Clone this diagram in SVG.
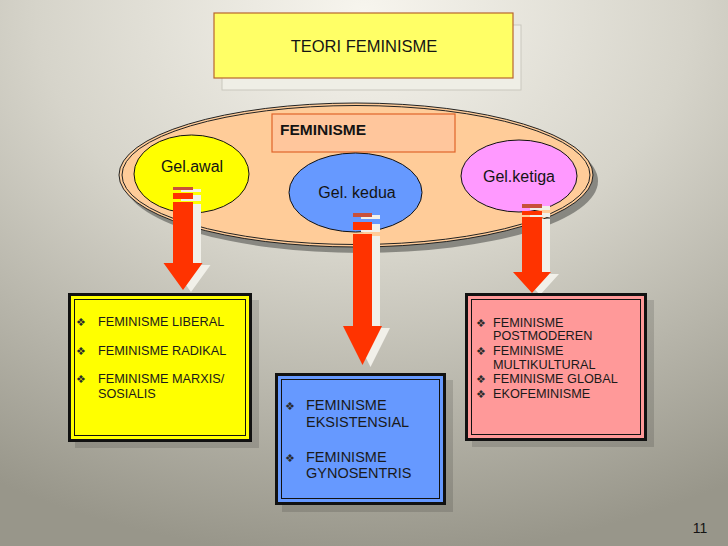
<svg xmlns="http://www.w3.org/2000/svg" width="728" height="546" viewBox="0 0 728 546">
<defs>
<radialGradient id="bg" cx="0.5" cy="0.02" r="1" fx="0.5" fy="0.02">
<stop offset="0" stop-color="#F7F5EE"/>
<stop offset="0.45" stop-color="#D6D4CA"/>
<stop offset="1" stop-color="#98968A"/>
</radialGradient>
</defs>
<style>
.lbl{font-family:"Liberation Sans",Arial,sans-serif;fill:#141414}
.item{font-family:"Liberation Sans",Arial,sans-serif;fill:#1a1a1a}
.side{font-size:12.7px}
.mid{font-size:14.5px}
.bul{font-family:"DejaVu Sans",sans-serif;font-size:11px;fill:#2a2a2a;text-anchor:middle}
.arr{fill:#FF3300}
.ash{fill:#F1F0E9}
.stripe1{fill:#C8503A}
.boxshadow{fill:#000;opacity:0.13}
.frame{fill:none;stroke:#111;stroke-width:3}
.frame2{fill:none;stroke:#111;stroke-width:1}
</style>
<rect x="0" y="0" width="728" height="546" fill="url(#bg)"/>

<g id="title">
<rect x="222" y="25" width="299" height="65" fill="#EFEEE6" stroke="#C9C7BE" stroke-width="1"/>
<rect x="214" y="13" width="299" height="65" fill="#FFFF66" stroke="#B8662E" stroke-width="1.2"/>
<text class="lbl" x="364" y="52" font-size="16.5" text-anchor="middle">TEORI FEMINISME</text>
</g>

<g id="feminisme-group">
<ellipse cx="361" cy="181" rx="237" ry="72" fill="#6E6D68" opacity="0.75"/>
<ellipse cx="356" cy="175" rx="237" ry="72" fill="#FFCC99" stroke="#222" stroke-width="1"/>
<ellipse cx="356" cy="175" rx="234" ry="69.5" fill="none" stroke="#222" stroke-width="1"/>
</g>

<g id="feminisme-label">
<rect x="272" y="114" width="183" height="38" fill="#FFC69C" stroke="#E0642A" stroke-width="1.2"/>
<text class="lbl" x="280" y="135" font-size="15.5" font-weight="bold">FEMINISME</text>
</g>

<g id="gel-awal">
<ellipse cx="191.5" cy="174" rx="57.5" ry="39" fill="#FFFF00" stroke="#111" stroke-width="1"/>
<text class="lbl" x="192" y="172" font-size="16" text-anchor="middle">Gel.awal</text>
</g>

<g id="gel-kedua">
<ellipse cx="355.5" cy="192.5" rx="66.5" ry="39.5" fill="#6699FF" stroke="#111" stroke-width="1"/>
<text class="lbl" x="357" y="198" font-size="16" text-anchor="middle">Gel. kedua</text>
</g>

<g id="gel-ketiga">
<ellipse cx="519" cy="176" rx="58" ry="36" fill="#FF99FF" stroke="#111" stroke-width="1"/>
<text class="lbl" x="519" y="182" font-size="16" text-anchor="middle">Gel.ketiga</text>
</g>

<g id="connectors">
<g transform="translate(8,2)">
<rect class="ash" x="173" y="187" width="20" height="3"/>
<rect class="ash" x="173" y="193" width="20" height="6"/>
<path class="ash" d="M173,202 H193 V263 H202.5 L183,290 L163.5,263 H173 Z"/>
<rect class="ash" x="353" y="213" width="19" height="4"/>
<rect class="ash" x="353" y="222" width="19" height="8"/>
<path class="ash" d="M353,234 H372 V326 H382 L362.5,365 L343,326 H353 Z"/>
<rect class="ash" x="522" y="204" width="20" height="4"/>
<rect class="ash" x="522" y="211" width="20" height="4"/>
<path class="ash" d="M522,217 H542 V272 H551 L532,293 L513,272 H522 Z"/>
</g>
<rect class="stripe1" x="173" y="187" width="20" height="3"/>
<rect class="arr" x="173" y="193" width="20" height="6"/>
<path class="arr" d="M173,202 H193 V263 H202.5 L183,290 L163.5,263 H173 Z"/>
<rect class="stripe1" x="353" y="213" width="19" height="4"/>
<rect class="arr" x="353" y="222" width="19" height="8"/>
<path class="arr" d="M353,234 H372 V326 H382 L362.5,365 L343,326 H353 Z"/>
<rect class="stripe1" x="522" y="204" width="20" height="4"/>
<rect class="arr" x="522" y="211" width="20" height="4"/>
<path class="arr" d="M522,217 H542 V272 H551 L532,293 L513,272 H522 Z"/>
</g>

<g id="box-awal">
<rect class="boxshadow" x="75" y="300" width="184" height="148"/>
<rect x="68" y="293" width="184" height="149" fill="#FFFF00"/>
<rect class="frame" x="69.5" y="294.5" width="181" height="146"/>
<rect class="frame2" x="74.5" y="299.5" width="171" height="136"/>
<text class="bul" x="81" y="326">❖</text>
<text class="item side" x="98" y="326">FEMINISME LIBERAL</text>
<text class="bul" x="81" y="355">❖</text>
<text class="item side" x="98" y="355">FEMINISME RADIKAL</text>
<text class="bul" x="81" y="383">❖</text>
<text class="item side" x="98" y="383">FEMINISME MARXIS/</text>
<text class="item side" x="98" y="398">SOSIALIS</text>
</g>

<g id="box-kedua">
<rect class="boxshadow" x="282" y="380" width="171" height="132"/>
<rect x="275" y="373" width="171" height="132" fill="#6699FF"/>
<rect class="frame" x="276.5" y="374.5" width="168" height="129"/>
<rect class="frame2" x="281.5" y="379.5" width="158" height="119"/>
<text class="bul" x="290" y="410">❖</text>
<text class="item mid" x="306" y="410">FEMINISME</text>
<text class="item mid" x="306" y="427">EKSISTENSIAL</text>
<text class="bul" x="290" y="462">❖</text>
<text class="item mid" x="306" y="462">FEMINISME</text>
<text class="item mid" x="306" y="478">GYNOSENTRIS</text>
</g>

<g id="box-ketiga">
<rect class="boxshadow" x="472" y="300" width="182" height="147"/>
<rect x="465" y="293" width="182" height="148" fill="#FF9999"/>
<rect class="frame" x="466.5" y="294.5" width="179" height="145"/>
<rect class="frame2" x="471.5" y="299.5" width="169" height="135"/>
<text class="bul" x="481" y="327">❖</text>
<text class="item side" x="493" y="327">FEMINISME</text>
<text class="item side" x="493" y="340">POSTMODEREN</text>
<text class="bul" x="481" y="355">❖</text>
<text class="item side" x="493" y="355">FEMINISME</text>
<text class="item side" x="493" y="369">MULTIKULTURAL</text>
<text class="bul" x="481" y="383">❖</text>
<text class="item side" x="493" y="383">FEMINISME GLOBAL</text>
<text class="bul" x="481" y="398">❖</text>
<text class="item side" x="493" y="398">EKOFEMINISME</text>
</g>

<text class="lbl" x="700" y="533" font-size="14" text-anchor="middle" fill="#333">11</text>
</svg>
